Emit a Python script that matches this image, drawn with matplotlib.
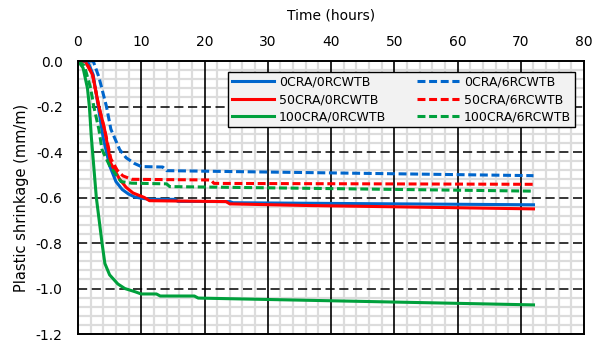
import numpy as np
import matplotlib
matplotlib.use('Agg')
import matplotlib.pyplot as plt
from matplotlib.ticker import MultipleLocator

# 数据
h_b0 = [0, 1.5, 2.4, 3.2, 4.0, 5.0, 6.0, 7.0, 8.0, 9.0, 10.0, 11.3, 15.3, 15.8, 24.0, 24.5, 40, 72]
v_b0 = [0, 0, -0.06, -0.2, -0.34, -0.46, -0.53, -0.565, -0.585, -0.598, -0.603, -0.608, -0.608, -0.617, -0.618, -0.623, -0.626, -0.632]

h_r0 = [0, 1.1, 2.3, 3.3, 4.2, 5.2, 6.6, 7.6, 8.7, 10.5, 11.3, 23.4, 24.0, 36, 72]
v_r0 = [0, 0, -0.06, -0.2, -0.30, -0.45, -0.52, -0.555, -0.58, -0.60, -0.614, -0.618, -0.628, -0.635, -0.65]

h_g0 = [0, 0.8, 1.5, 1.8, 2.1, 2.9, 3.8, 4.25, 5.0, 6.3, 7.4, 9.0, 10, 12.4, 13, 18.4, 19, 72]
v_g0 = [0, -0.03, -0.12, -0.2, -0.33, -0.6, -0.8, -0.89, -0.94, -0.98, -1.0, -1.014, -1.024, -1.024, -1.033, -1.033, -1.042, -1.072]

h_b6 = [0, 2.4, 3.3, 4.5, 5.2, 6.6, 7.6, 8.9, 10.0, 13.4, 14.0, 72]
v_b6 = [0, 0, -0.07, -0.2, -0.30, -0.39, -0.425, -0.45, -0.464, -0.466, -0.482, -0.504]

h_r6 = [0, 1.2, 2.3, 3.3, 4.2, 5.2, 6.2, 7.1, 8.5, 21, 21.5, 72]
v_r6 = [0, 0, -0.06, -0.2, -0.30, -0.43, -0.48, -0.505, -0.52, -0.523, -0.538, -0.542]

h_g6 = [0, 1.0, 2.0, 2.5, 3.3, 3.8, 5.0, 6.8, 8.5, 14, 14.5, 72]
v_g6 = [0, -0.02, -0.12, -0.2, -0.30, -0.39, -0.46, -0.53, -0.537, -0.54, -0.552, -0.572]

labels = ['0CRA/0RCWTB', '50CRA/0RCWTB', '100CRA/0RCWTB',
          '0CRA/6RCWTB', '50CRA/6RCWTB', '100CRA/6RCWTB']

blue = '#0066cc'
red = '#ff0000'
green = '#00a03c'

plt.rcParams['font.family'] = ['DejaVu Sans']
plt.rcParams['font.size'] = 10

fig = plt.figure(figsize=(5.93, 3.48), dpi=100)
ax = fig.add_axes([0.1315, 0.0402, 0.8535, 0.7845])

lw = 2.2
dash = (2.6, 1.2)
ax.plot(h_b0, v_b0, color=blue, lw=lw, label=labels[0])
ax.plot(h_r0, v_r0, color=red, lw=lw, label=labels[1])
ax.plot(h_g0, v_g0, color=green, lw=lw, label=labels[2])
ax.plot(h_b6, v_b6, color=blue, lw=lw, ls=(0, dash), label=labels[3])
ax.plot(h_r6, v_r6, color=red, lw=lw, ls=(0, dash), label=labels[4])
ax.plot(h_g6, v_g6, color=green, lw=lw, ls=(0, dash), label=labels[5])

ax.set_xlim(0, 80)
ax.set_ylim(-1.2, 0)
ax.xaxis.set_major_locator(MultipleLocator(10))
ax.xaxis.set_minor_locator(MultipleLocator(2))
ax.yaxis.set_major_locator(MultipleLocator(0.2))
ax.yaxis.set_minor_locator(MultipleLocator(0.04))
ax.yaxis.set_major_formatter(plt.FormatStrFormatter('%.1f'))

ax.xaxis.tick_top()
ax.xaxis.set_label_position('top')
ax.tick_params(which='both', length=0)
ax.tick_params(axis='x', pad=9)
ax.tick_params(axis='y', pad=11)
ax.set_xlabel('Time (hours)', labelpad=11)
ax.set_ylabel('Plastic shrinkage (mm/m)', labelpad=5, fontsize=10.5)

# 浅灰色次网格
ax.grid(which='minor', color='#dcdcdc', lw=1.6)
ax.set_axisbelow(True)
# 主网格: 竖线实线, 横线虚线
for t in np.arange(10, 80, 10):
    ax.axvline(t, color='black', lw=1.2, zorder=0.8)
for t in np.arange(-1.0, -0.1, 0.2):
    ax.axhline(t, color='black', lw=1.1, ls=(0, (6, 3)), zorder=0.7)

for s in ax.spines.values():
    s.set_linewidth(1.4)
    s.set_color('black')

leg = ax.legend(ncol=2, loc='upper left', bbox_to_anchor=(0.296, 0.755, 0.686, 0.205),
                mode='expand', fancybox=False, framealpha=1, edgecolor='black',
                facecolor='#f2f2f2', fontsize=9, handlelength=3.4, handletextpad=0.4,
                columnspacing=0.9, labelspacing=0.35, borderpad=0.3, borderaxespad=0)
leg.get_frame().set_linewidth(1.0)

fig.savefig('out.png', dpi=100)
